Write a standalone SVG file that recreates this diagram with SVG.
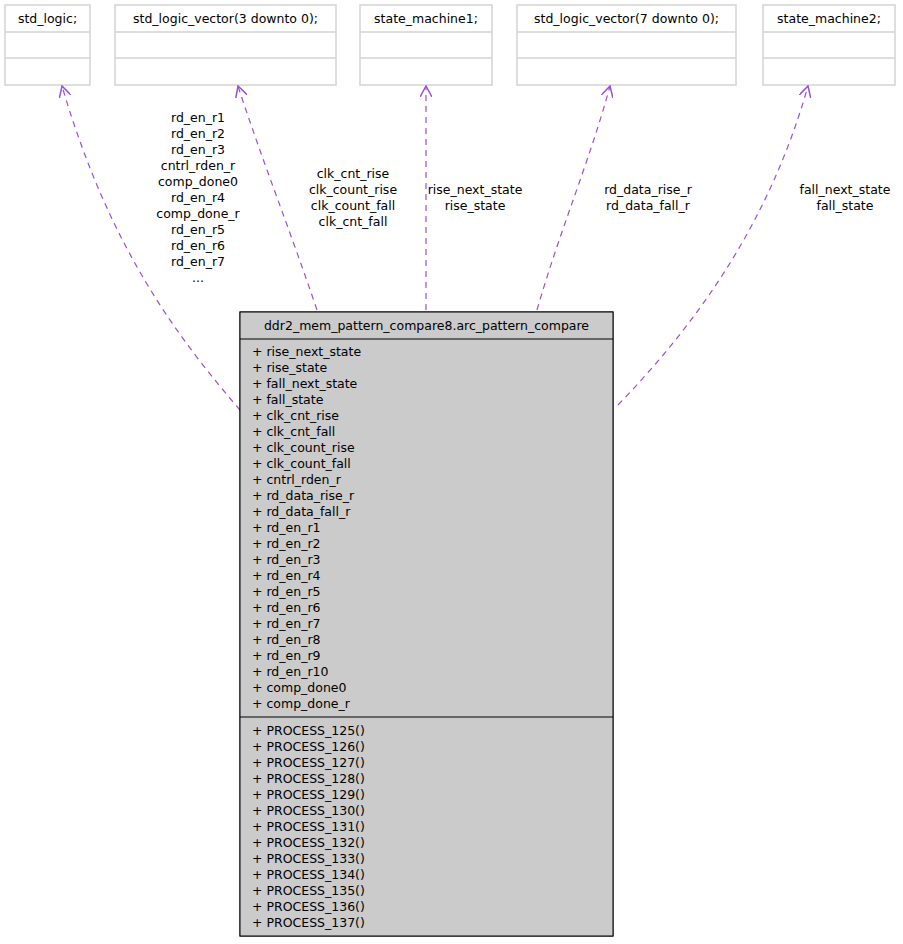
<svg xmlns="http://www.w3.org/2000/svg" width="903" height="944" viewBox="0 0 903 944">
<defs>
<style>
text{font-family:"DejaVu Sans","Liberation Sans",sans-serif;font-size:12.5px;fill:#000}
.c{text-anchor:middle}
.ext rect{fill:#fff;stroke:#d3d3d3;stroke-width:1.5}
.ext line{stroke:#d3d3d3;stroke-width:1.5}
.e{fill:none;stroke:#9a4fdb;stroke-width:1.2;stroke-dasharray:6,5}
</style>
<marker id="a" viewBox="0 0 12 12" refX="11" refY="6" markerWidth="12" markerHeight="12" markerUnits="userSpaceOnUse" orient="auto">
<path d="M0,0 L11,6 L0,12" fill="none" stroke="#9a4fdb" stroke-width="1.5"/>
</marker>
</defs>
<rect width="903" height="944" fill="#fff"/>
<g id="n1" class="ext"><rect x="5" y="5" width="85" height="80"/><line x1="5" y1="32" x2="90" y2="32"/><line x1="5" y1="58" x2="90" y2="58"/><text x="47.5" y="23" class="c">std_logic;</text></g>
<g id="n2" class="ext"><rect x="115" y="5" width="221" height="80"/><line x1="115" y1="32" x2="336" y2="32"/><line x1="115" y1="58" x2="336" y2="58"/><text x="225.5" y="23" class="c">std_logic_vector(3 downto 0);</text></g>
<g id="n3" class="ext"><rect x="360" y="5" width="132" height="80"/><line x1="360" y1="32" x2="492" y2="32"/><line x1="360" y1="58" x2="492" y2="58"/><text x="426" y="23" class="c">state_machine1;</text></g>
<g id="n4" class="ext"><rect x="517" y="5" width="219" height="80"/><line x1="517" y1="32" x2="736" y2="32"/><line x1="517" y1="58" x2="736" y2="58"/><text x="626.5" y="23" class="c">std_logic_vector(7 downto 0);</text></g>
<g id="n5" class="ext"><rect x="763" y="5" width="132" height="80"/><line x1="763" y1="32" x2="895" y2="32"/><line x1="763" y1="58" x2="895" y2="58"/><text x="829" y="23" class="c">state_machine2;</text></g>
<g id="edges">
<path class="e" marker-end="url(#a)" d="M240,410 C180,340 110,250 62,86"/>
<path class="e" marker-end="url(#a)" d="M317,310 C290,230 262,160 238,86"/>
<path class="e" marker-end="url(#a)" d="M426,310 L426,86"/>
<path class="e" marker-end="url(#a)" d="M537,310 C560,230 590,160 610,86"/>
<path class="e" marker-end="url(#a)" d="M618,405 C700,320 770,220 808,86"/>
<g class="c">
<text x="198" y="122" class="c">rd_en_r1</text><text x="198" y="138" class="c">rd_en_r2</text><text x="198" y="154" class="c">rd_en_r3</text><text x="198" y="170" class="c">cntrl_rden_r</text><text x="198" y="186" class="c">comp_done0</text><text x="198" y="202" class="c">rd_en_r4</text><text x="198" y="218" class="c">comp_done_r</text><text x="198" y="234" class="c">rd_en_r5</text><text x="198" y="250" class="c">rd_en_r6</text><text x="198" y="266" class="c">rd_en_r7</text><text x="198" y="282" class="c">...</text>
<text x="353" y="178" class="c">clk_cnt_rise</text><text x="353" y="194" class="c">clk_count_rise</text><text x="353" y="210" class="c">clk_count_fall</text><text x="353" y="226" class="c">clk_cnt_fall</text>
<text x="475" y="194" class="c">rise_next_state</text><text x="475" y="210" class="c">rise_state</text>
<text x="648" y="194" class="c">rd_data_rise_r</text><text x="648" y="210" class="c">rd_data_fall_r</text>
<text x="845" y="194" class="c">fall_next_state</text><text x="845" y="210" class="c">fall_state</text>
</g>
</g>
<g id="main">
<rect x="240" y="312" width="373" height="624" fill="#bfbfbf" stroke="#000" stroke-width="1"/>
<rect x="240" y="312" width="373" height="624" fill="#cbcbcb" stroke="#000" stroke-width="1"/>
<line x1="240" y1="339" x2="613" y2="339" stroke="#000"/>
<line x1="240" y1="717" x2="613" y2="717" stroke="#000"/>
<text x="426.5" y="330" class="c">ddr2_mem_pattern_compare8.arc_pattern_compare</text>
<text x="252" y="356">+ rise_next_state</text>
<text x="252" y="372">+ rise_state</text>
<text x="252" y="388">+ fall_next_state</text>
<text x="252" y="404">+ fall_state</text>
<text x="252" y="420">+ clk_cnt_rise</text>
<text x="252" y="436">+ clk_cnt_fall</text>
<text x="252" y="452">+ clk_count_rise</text>
<text x="252" y="468">+ clk_count_fall</text>
<text x="252" y="484">+ cntrl_rden_r</text>
<text x="252" y="500">+ rd_data_rise_r</text>
<text x="252" y="516">+ rd_data_fall_r</text>
<text x="252" y="532">+ rd_en_r1</text>
<text x="252" y="548">+ rd_en_r2</text>
<text x="252" y="564">+ rd_en_r3</text>
<text x="252" y="580">+ rd_en_r4</text>
<text x="252" y="596">+ rd_en_r5</text>
<text x="252" y="612">+ rd_en_r6</text>
<text x="252" y="628">+ rd_en_r7</text>
<text x="252" y="644">+ rd_en_r8</text>
<text x="252" y="660">+ rd_en_r9</text>
<text x="252" y="676">+ rd_en_r10</text>
<text x="252" y="692">+ comp_done0</text>
<text x="252" y="708">+ comp_done_r</text>
<text x="252" y="735">+ PROCESS_125()</text>
<text x="252" y="751">+ PROCESS_126()</text>
<text x="252" y="767">+ PROCESS_127()</text>
<text x="252" y="783">+ PROCESS_128()</text>
<text x="252" y="799">+ PROCESS_129()</text>
<text x="252" y="815">+ PROCESS_130()</text>
<text x="252" y="831">+ PROCESS_131()</text>
<text x="252" y="847">+ PROCESS_132()</text>
<text x="252" y="863">+ PROCESS_133()</text>
<text x="252" y="879">+ PROCESS_134()</text>
<text x="252" y="895">+ PROCESS_135()</text>
<text x="252" y="911">+ PROCESS_136()</text>
<text x="252" y="927">+ PROCESS_137()</text>
</g>
</svg>
